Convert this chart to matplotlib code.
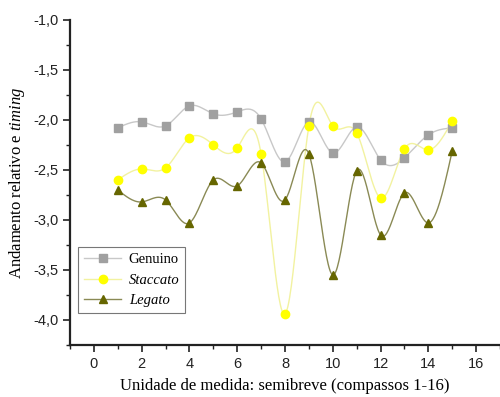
import numpy as np
import matplotlib
matplotlib.use('Agg')
import matplotlib.pyplot as plt
from matplotlib.ticker import MultipleLocator

# compassos
x = [1, 2, 3, 4, 5, 6, 7, 8, 9, 10, 11, 12, 13, 14, 15]

genuino = [-2.08, -2.02, -2.06, -1.86, -1.94, -1.92, -1.99, -2.42,
           -2.02, -2.33, -2.07, -2.40, -2.38, -2.15, -2.08]
staccato = [-2.60, -2.49, -2.48, -2.18, -2.25, -2.28, -2.34, -3.94,
            -2.06, -2.06, -2.13, -2.78, -2.29, -2.30, -2.01]
legato = [-2.70, -2.82, -2.80, -3.03, -2.60, -2.66, -2.43, -2.80,
          -2.34, -3.55, -2.51, -3.15, -2.73, -3.03, -2.31]

xticks = [0, 2, 4, 6, 8, 10, 12, 14, 16]
yticks = [-4.0, -3.5, -3.0, -2.5, -2.0, -1.5, -1.0]


def natural_spline(xs, ys, n=400):
    # natural cubic spline, like Origin's "spline" connect
    xs = np.asarray(xs, float)
    ys = np.asarray(ys, float)
    k = len(xs)
    h = np.diff(xs)
    A = np.zeros((k, k))
    b = np.zeros(k)
    A[0, 0] = 1
    A[-1, -1] = 1
    for i in range(1, k - 1):
        A[i, i - 1] = h[i - 1]
        A[i, i] = 2 * (h[i - 1] + h[i])
        A[i, i + 1] = h[i]
        b[i] = 3 * ((ys[i + 1] - ys[i]) / h[i] - (ys[i] - ys[i - 1]) / h[i - 1])
    c = np.linalg.solve(A, b)
    xx = np.linspace(xs[0], xs[-1], n)
    idx = np.clip(np.searchsorted(xs, xx) - 1, 0, k - 2)
    dx = xx - xs[idx]
    hi = h[idx]
    bb = (ys[idx + 1] - ys[idx]) / hi - hi * (2 * c[idx] + c[idx + 1]) / 3
    dd = (c[idx + 1] - c[idx]) / (3 * hi)
    yy = ys[idx] + bb * dx + c[idx] * dx ** 2 + dd * dx ** 3
    return xx, yy


plt.rcParams['mathtext.fontset'] = 'custom'
plt.rcParams['mathtext.it'] = 'Liberation Serif:italic'
plt.rcParams['mathtext.rm'] = 'Liberation Serif'

fig = plt.figure(figsize=(5, 3.97), dpi=100)
ax = fig.add_axes([0.14, 0.131, 0.86, 0.819])

series = [
    (genuino, 's', '#a0a0a0', '#c8c8c8', 'Genuino', 'normal'),
    (staccato, 'o', '#ffff00', '#f2f2a0', 'Staccato', 'italic'),
    (legato, '^', '#666600', '#8a8a55', 'Legato', 'italic'),
]

handles = []
for ys, mk, mc, lc, name, st in series:
    xx, yy = natural_spline(x, ys)
    ax.plot(xx, yy, color=lc, lw=1.0, zorder=2)
    ax.plot(x, ys, linestyle='none', marker=mk, ms=6, color=mc, mec=mc, zorder=3)
    h, = ax.plot([], [], color=lc, lw=1.0, marker=mk, ms=6, mfc=mc, mec=mc, label=name)
    handles.append(h)

ax.set_xlim(-1, 17)
ax.set_ylim(-4.25, -1.0)
ax.set_xticks(xticks)
ax.set_yticks(yticks)
ax.xaxis.set_minor_locator(MultipleLocator(1))
ax.yaxis.set_minor_locator(MultipleLocator(0.25))
ax.set_yticklabels([('%.1f' % v).replace('.', ',') for v in yticks])

for s in ['top', 'right']:
    ax.spines[s].set_visible(False)
for s in ['left', 'bottom']:
    ax.spines[s].set_linewidth(1.6)
    ax.spines[s].set_color('#222222')

ax.tick_params(which='major', direction='out', length=5, width=1.2, colors='#222222',
               labelsize=10.5)
ax.tick_params(which='minor', direction='out', length=3, width=1.0, colors='#222222')
for lab in ax.get_xticklabels() + ax.get_yticklabels():
    lab.set_family('Liberation Sans')

ax.set_xlabel('Unidade de medida: semibreve (compassos 1-16)',
              family='Liberation Serif', fontsize=12, labelpad=5)
ax.set_ylabel(r'Andamento relativo e $\it{timing}$',
              family='Liberation Serif', fontsize=12, labelpad=4)

leg = ax.legend(handles=handles, loc='lower left', bbox_to_anchor=(0.018, 0.098),
                borderaxespad=0,
                prop={'family': 'Liberation Serif', 'size': 10.5},
                frameon=True, fancybox=False, edgecolor='#555555',
                handlelength=2.6, handletextpad=0.5, borderpad=0.4,
                labelspacing=0.5)
leg.get_frame().set_linewidth(0.8)
for t, (_, _, _, _, _, st) in zip(leg.get_texts(), series):
    t.set_style(st)

fig.savefig('out.png', dpi=100)
